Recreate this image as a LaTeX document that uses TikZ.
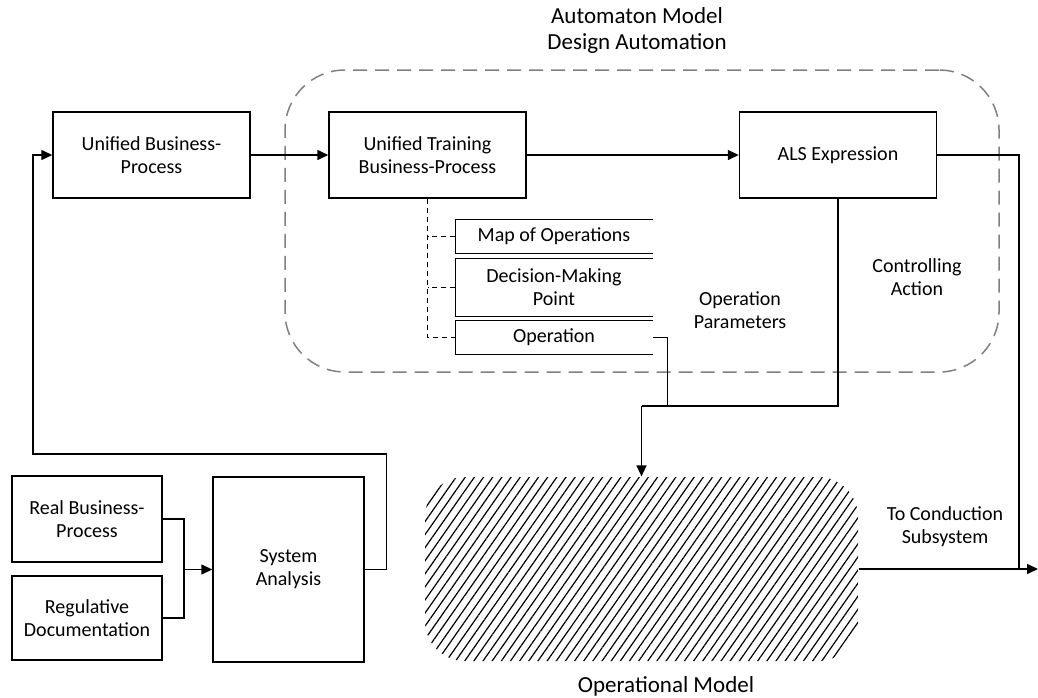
\documentclass[tikz,border=0pt]{standalone}
\usepackage{fontspec}
\setmainfont{Carlito}
\usetikzlibrary{arrows.meta,patterns.meta}
\begin{document}
\begin{tikzpicture}[x=1pt,y=-1pt,
  line width=1.4pt,
  box/.style={draw,rectangle,align=center,inner sep=0pt,font=\fontsize{20}{23}\selectfont},
  sub/.style={rectangle,align=center,inner sep=0pt,minimum width=196pt,font=\fontsize{20}{23}\selectfont},
  lbl/.style={align=center,inner sep=0pt,font=\fontsize{20}{23}\selectfont},
  ttl/.style={align=center,inner sep=0pt,font=\fontsize{23}{26}\selectfont},
  arr/.style={-{Triangle[length=11pt,width=10pt]}},
  dsh/.style={dash pattern=on 5pt off 4pt},
  frame/.style={draw=black!50,dash pattern=on 14pt off 8pt,rounded corners=60pt,line width=1.5pt,minimum width=714pt,minimum height=302pt,inner sep=0pt},
  hatch/.style={pattern={Lines[angle=55,distance=7.5pt,line width=1.2pt]},rounded corners=40pt,minimum width=433pt,minimum height=184pt,inner sep=0pt}
]
\useasboundingbox (0,0) rectangle (1038,697);

% dashed design-automation frame
\node[frame] (amd) at (642,221) {};
\node[ttl] (amdt) at (637,30) {Automaton Model\\Design Automation};

% main boxes
\node[box,minimum width=197pt,minimum height=86pt] (ubp) at (151.5,155) {Unified Business-\\Process};
\node[box,minimum width=197pt,minimum height=86pt] (utbp) at (427.5,155) {Unified Training\\Business-Process};
\node[box,minimum width=197pt,minimum height=86pt] (als) at (838,155) {ALS Expression};

% sub items (open on the right)
\node[sub,minimum height=33pt] (map) at (554,236.5) {Map of Operations};
\node[sub,minimum height=57pt] (dec) at (554,287.5) {Decision-Making\\Point};
\node[sub,minimum height=33pt] (op) at (554,337.5) {Operation};
\foreach \n in {map,dec,op}{
  \draw (\n.north east) -- (\n.north west) -- (\n.south west) -- (\n.south east);
}

% operational model
\node[hatch] (opm) at (641.5,569) {};
\node[ttl] (opmt) at (666,686) {Operational Model};

% lower-left boxes
\node[box,minimum width=150pt,minimum height=86pt] (real) at (87,519) {Real Business-\\Process};
\node[box,minimum width=150pt,minimum height=84pt] (reg) at (87,618) {Regulative\\Documentation};
\node[box,minimum width=151pt,minimum height=185pt] (sa) at (288.5,569.5) {System\\Analysis};

% labels
\node[lbl] (oppl) at (740,310) {Operation\\Parameters};
\node[lbl] (cal) at (917,277) {Controlling\\Action};
\node[lbl] (tcl) at (945,527) {To Conduction\\Subsystem};

% coordinates
\coordinate (m) at (184,569.5);
\coordinate (fb) at (33,454);
\coordinate (j) at (641.5,406);
\coordinate (k) at (1019,569);
\coordinate (out) at (1038,569);

% connectors
\draw[arr] (ubp.east) -- (utbp.west);
\draw[arr] (utbp.east) -- (als.west);
\draw[dsh] (utbp.south) |- (op.west);
\draw[dsh] (map.west) -- (map.west -| utbp.south);
\draw[dsh] (dec.west) -- (dec.west -| utbp.south);
\draw (op.east) -- ++(15,0) |- (j);
\draw (als.south) |- (j);
\draw[arr] (j) -- (opm.north);
\draw (als.east) -| (k);
\draw[arr] (opm.east) -- (out);
\draw (real.east) -| (m);
\draw (reg.east) -| (m);
\draw[arr] (m) -- (sa.west);
\draw[arr] (sa.east) -- ++(22,0) |- (fb) |- (ubp.west);
\end{tikzpicture}
\end{document}
